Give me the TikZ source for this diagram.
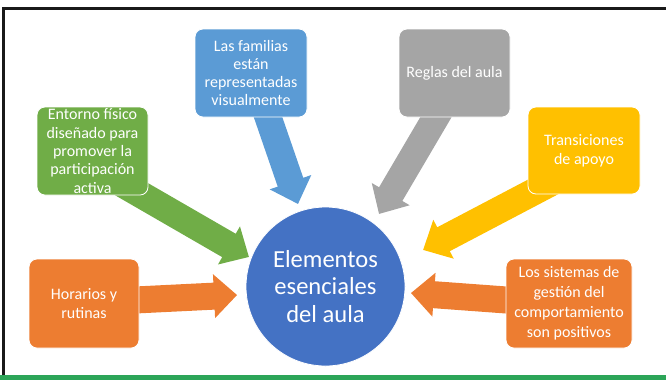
\documentclass[tikz,border=0pt]{standalone}
\usepackage{fontspec}
\setmainfont{Carlito}
\usetikzlibrary{calc}
\definecolor{cblue}{HTML}{5B9BD5}
\definecolor{cgray}{HTML}{A5A5A5}
\definecolor{cyellow}{HTML}{FFC000}
\definecolor{cgreen}{HTML}{70AD47}
\definecolor{corange}{HTML}{ED7D31}
\definecolor{ccircle}{HTML}{4472C4}
\definecolor{cbar}{RGB}{44,165,88}
\newcommand\blockarrow[3]{%
  \fill[#3] let \p1=($(#2)-(#1)$), \n1={atan2(\y1,\x1)}, \n2={veclen(\x1,\y1)} in
    [shift={(#1)}, rotate=\n1]
    (0pt,10.125pt) -- (\n2-17.25pt,10.125pt) -- (\n2-17.25pt,16.5pt) -- (\n2,0pt)
    -- (\n2-17.25pt,-16.5pt) -- (\n2-17.25pt,-10.125pt) -- (0pt,-10.125pt) -- cycle;}
\tikzset{
  boxstyle/.style={rounded corners=6pt, draw=white, line width=0.6pt, text=white,
    align=center, inner sep=0pt, font=\fontsize{12}{14}\selectfont},
  centerstyle/.style={circle, fill=ccircle, draw=white, line width=0.6pt, text=white,
    align=center, inner sep=0pt, minimum size=119.25pt, font=\fontsize{18.4}{20.6}\selectfont}
}
\begin{document}
\begin{tikzpicture}[x=0.75pt,y=-0.75pt]
\useasboundingbox (0,0) rectangle (666,380);
% frame
\fill[cbar] (0,375) rectangle (666,380);
\draw[line width=2.25pt, color=black!90] (3.5,375) -- (3.5,8.5) -- (666,8.5);
% arrow end points
\coordinate (hA) at (125,300.5); \coordinate (hB) at (237,295);
\coordinate (sA) at (520,301);   \coordinate (sB) at (411,293);
\coordinate (fA) at (263.1,102.8); \coordinate (fB) at (298,204);
\coordinate (rA) at (443.6,104.1); \coordinate (rB) at (379,214);
\coordinate (eA) at (120,182.5); \coordinate (eB) at (249,257);
\coordinate (tA) at (554.3,181); \coordinate (tB) at (423,250);
% arrows
\blockarrow{hA}{hB}{corange}
\blockarrow{sA}{sB}{corange}
\blockarrow{fA}{fB}{cblue}
\blockarrow{rA}{rB}{cgray}
\blockarrow{eA}{eB}{cgreen}
\blockarrow{tA}{tB}{cyellow}
% boxes
\node[boxstyle, fill=corange, minimum width=82.5pt, minimum height=66.75pt] (horarios) at (84,303.5) {Horarios y\\rutinas};
\node[boxstyle, fill=corange, minimum width=94.5pt, minimum height=66.75pt, font=\fontsize{12}{15}\selectfont] (sistemas) at (569,303.5) {Los sistemas de\\gestión del\\comportamiento\\son positivos};
\node[boxstyle, fill=cgreen, minimum width=83.25pt, minimum height=66pt, font=\fontsize{12}{13.7}\selectfont] (entorno) at (92.5,151) {Entorno físico\\diseñado para\\promover la\\participación\\activa};
\node[boxstyle, fill=cblue, minimum width=84pt, minimum height=66pt, font=\fontsize{12}{13.7}\selectfont] (familias) at (251,73) {Las familias\\están\\representadas\\visualmente};
\node[boxstyle, fill=cgray, minimum width=83.25pt, minimum height=66pt] (reglas) at (454.5,73) {Reglas del aula};
\node[boxstyle, fill=cyellow, minimum width=84pt, minimum height=65.25pt] (transiciones) at (584,150.5) {Transiciones\\de apoyo};
% center
\node[centerstyle] (centro) at (325.5,286.5) {Elementos\\esenciales\\del aula};
\end{tikzpicture}
\end{document}
